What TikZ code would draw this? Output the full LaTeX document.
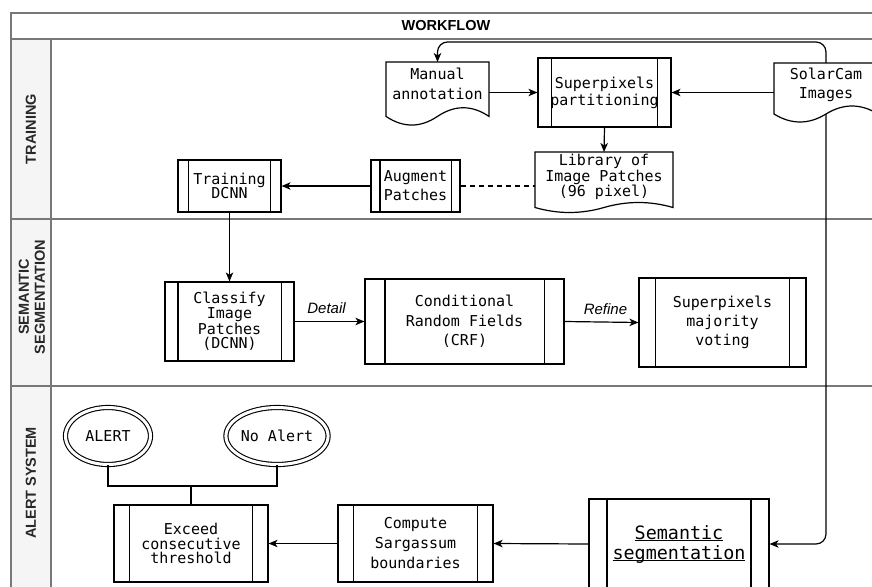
\documentclass[tikz,border=0pt]{standalone}
\usepackage{fontspec}
\setmonofont{DejaVu Sans Mono}
\setsansfont{Liberation Sans}
\usetikzlibrary{arrows.meta,calc,shapes.geometric}
\definecolor{laneline}{RGB}{120,120,120}
\definecolor{lanefill}{RGB}{245,245,245}
\definecolor{lbltext}{RGB}{40,40,40}
\newsavebox\ulbox
\newcommand\myul[1]{\sbox\ulbox{#1}\rlap{\rule[-2.4pt]{\wd\ulbox}{1.1pt}}\usebox\ulbox}
% document shape outline: #1 node, #2 drop of wave ends below node south, #3 control offset
\newcommand\docwave[3]{%
  \draw[box] let \p1=(#1.north west), \p2=(#1.south east), \n1={\x2-\x1} in
   (\x1,\y1) -- (\x2,\y1) -- (\x2,{\y2-#2pt})
   .. controls ({\x2-\n1/6},{\y2-#2pt+2/3*#3pt}) and ({\x1+\n1/2+\n1/6},{\y2-#2pt+2/3*#3pt}) .. ({\x1+\n1/2},{\y2-#2pt})
   .. controls ({\x1+\n1/2-\n1/6},{\y2-#2pt-2/3*#3pt}) and ({\x1+\n1/6},{\y2-#2pt-2/3*#3pt}) .. (\x1,{\y2-#2pt}) -- cycle;}
\tikzset{
  box/.style={draw=black, line width=1.2pt},
  txt/.style={font=\ttfamily\fontsize{15pt}{#1}\selectfont, align=center, inner sep=0pt},
  proc/.style={box, align=center, inner sep=0pt,
    path picture={\draw[line width=1.2pt] let \p1=(path picture bounding box.south west),
      \p2=(path picture bounding box.north east), \n1={0.1*(\x2-\x1)} in
      ({\x1+\n1},\y1) -- ({\x1+\n1},\y2) ({\x2-\n1},\y1) -- ({\x2-\n1},\y2);}},
  doc/.style={inner sep=0pt, outer sep=0pt, align=center},
  ell/.style={ellipse, draw=black, line width=1.1pt, double, double distance=3pt,
    minimum width=85pt, minimum height=57pt, inner sep=0pt,
    font=\ttfamily\fontsize{15pt}{18pt}\selectfont},
  arr/.style={-{Stealth[length=9pt,width=7.5pt,inset=2.5pt]}, line width=1.2pt},
  conn/.style={line width=1.2pt},
  lanelbl/.style={font=\sffamily\bfseries\fontsize{14.5pt}{16pt}\selectfont, text=lbltext, align=center, inner sep=0pt},
  hdr/.style={font=\sffamily\bfseries\fontsize{14.5pt}{17pt}\selectfont, inner sep=0pt},
  elbl/.style={font=\sffamily\itshape\fontsize{15pt}{17pt}\selectfont, inner sep=0pt},
}
\begin{document}
\begin{tikzpicture}[x=1pt,y=-1pt]
\useasboundingbox (0,0) rectangle (872,586);
% swimlanes
\fill[lanefill] (11,39) rectangle (51,600);
\draw[laneline, line width=1.2pt] (11,13) rectangle (881,600);
\draw[laneline, line width=1.2pt] (11,39) -- (881,39) (11,219) -- (881,219) (11,386) -- (881,386) (51,39) -- (51,600);
\node[hdr] (wf) at (446,26) {WORKFLOW};
\node[lanelbl, rotate=90] (l1) at (31,129) {TRAINING};
\node[lanelbl, rotate=90] (l2) at (32,297) {SEMANTIC\\SEGMENTATION};
\node[lanelbl, rotate=90] (l3) at (31,483) {ALERT SYSTEM};
% training
\node[doc, minimum width=103pt, minimum height=44pt, txt=20pt] (man) at (437.5,84) {Manual\\annotation};
\docwave{man}{10.4}{17.3}
\node[proc, minimum width=133pt, minimum height=69pt, txt=17pt] (sp) at (604.5,92.5) {Superpixels\\partitioning};
\node[doc, minimum width=104pt, minimum height=43pt, txt=19pt] (sc) at (826,84.5) {SolarCam\\Images};
\docwave{sc}{8}{16}
\node[doc, minimum width=138pt, minimum height=50pt, txt=14.5pt] (lib) at (604,177) {Library of\\Image Patches\\(96 pixel)};
\docwave{lib}{5.5}{10}
\node[proc, minimum width=89pt, minimum height=52pt, txt=19pt] (aug) at (415.5,186) {Augment\\Patches};
\node[proc, minimum width=103pt, minimum height=52pt, txt=14.5pt] (tr) at (229.5,186) {Training\\DCNN};
% semantic segmentation
\node[proc, minimum width=129pt, minimum height=79pt, txt=14pt] (cl) at (229.5,321.5) {Classify\\Image\\Patches\\(DCNN)};
\node[proc, minimum width=199pt, minimum height=85pt, txt=19.5pt] (crf) at (464.5,321.5) {Conditional\\Random Fields\\(CRF)};
\node[proc, minimum width=167pt, minimum height=89pt, txt=19pt] (mv) at (722.5,322.5) {Superpixels\\majority\\voting};
% alert system
\node[ell] (al) at (108,436) {ALERT};
\node[ell] (na) at (277,436) {No Alert};
\node[proc, minimum width=154pt, minimum height=77pt, txt=14.5pt] (ex) at (191,543.5) {Exceed\\consecutive\\threshold};
\node[proc, minimum width=155pt, minimum height=77pt, txt=20pt] (cs) at (415.5,543.5) {Compute\\Sargassum\\boundaries};
\node[proc, minimum width=180pt, minimum height=90pt, font=\ttfamily\fontsize{18.4pt}{20pt}\selectfont] (ss) at (679,544) {\myul{Semantic}\\\myul{segmentation}};
% connectors
\coordinate (toprow) at (0,42);
\coordinate (scb) at ($(sc.south)+(0,8)$);
\draw[arr] (man.east |- sp.west) -- (sp.west);
\draw[arr] (sc.west |- sp.east) -- (sp.east);
\draw[arr] (sp.south) -- (lib.north);
\draw[arr, rounded corners=10pt] (sc.north) -- (sc.north |- toprow) -- (man.north |- toprow) -- (man.north);
\draw[arr, rounded corners=10pt] (scb) -- (scb |- ss.east) -- (ss.east);
\draw[arr] (aug.west) -- (tr.east);
\draw[conn, dash pattern=on 5pt off 4pt] (aug.east) -- (aug.east -| lib.west);
\draw[arr] (tr.south) -- (cl.north);
\draw[arr] (cl.east) -- node[elbl, midway, above=7pt, xshift=-3pt] {Detail} (crf.west);
\draw[arr] (crf.east) -- node[elbl, midway, above=7pt, xshift=4pt] {Refine} (mv.west);
\draw[arr] (ss.west) -- (cs.east);
\draw[arr] (cs.west) -- (ex.east);
\coordinate (j) at (ex.north |- 0,486);
\draw[conn] (al.south) |- (j) -| (na.south);
\draw[conn] (ex.north) -- (j);
\end{tikzpicture}
\end{document}
